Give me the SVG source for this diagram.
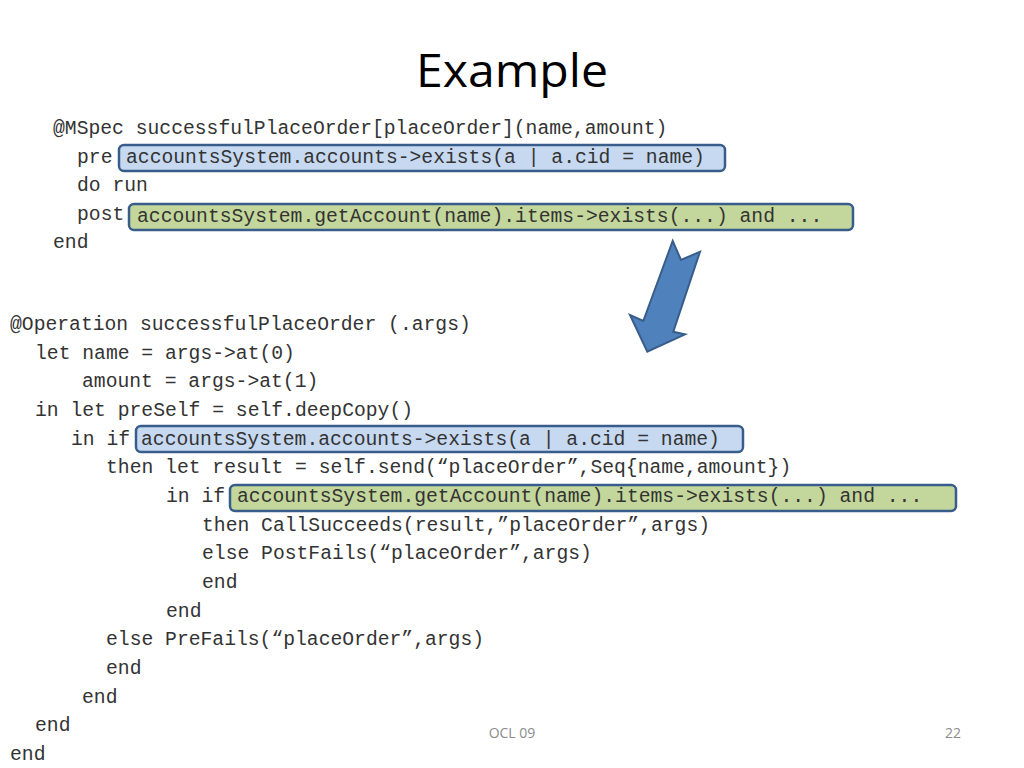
<svg xmlns="http://www.w3.org/2000/svg" width="1024" height="768" viewBox="0 0 1024 768">
<style>
.code{font-family:"Liberation Mono","Courier New",monospace;font-size:19.7px;fill:#333333;white-space:pre}
.pre{fill:#C6D9F1;stroke:#385D8A;stroke-width:2.5}
.post{fill:#C3D69B;stroke:#385D8A;stroke-width:2.5}
.foot{font-family:"Open Sans","Liberation Sans",sans-serif;font-size:14px;fill:#8C8C8C}
</style>
<rect width="1024" height="768" fill="#FFFFFF"/>
<text x="512" y="87" text-anchor="middle" font-family="Open Sans, Liberation Sans, sans-serif" font-size="46" fill="#000" textLength="192" lengthAdjust="spacingAndGlyphs">Example</text>

<g id="mspec">
<text class="code" x="53" y="134">@MSpec successfulPlaceOrder[placeOrder](name,amount)</text>
<text class="code" x="77" y="163">pre</text>
<text class="code" x="77" y="191">do run</text>
<text class="code" x="77" y="220">post</text>
<text class="code" x="53" y="248">end</text>
</g>
<g id="mspec-pre">
<rect class="pre" x="119" y="145" width="606" height="26" rx="5"/>
<text class="code" x="126" y="163">accountsSystem.accounts-&gt;exists(a | a.cid = name)</text>
</g>
<g id="mspec-post">
<rect class="post" x="129" y="204" width="724" height="26" rx="5"/>
<text class="code" x="137" y="222">accountsSystem.getAccount(name).items-&gt;exists(...) and ...</text>
</g>

<g id="connectors">
<polygon points="672.7,241 681,260 700,251.7 673.3,331.7 685,334.3 647.3,351.7 630,315 643.3,321" fill="#4F81BD" stroke="#385D8A" stroke-width="2" stroke-linejoin="miter"/>
</g>

<g id="operation">
<text class="code" x="10" y="330">@Operation successfulPlaceOrder (.args)</text>
<text class="code" x="35" y="359">let name = args-&gt;at(0)</text>
<text class="code" x="82" y="387">amount = args-&gt;at(1)</text>
<text class="code" x="35" y="416">in let preSelf = self.deepCopy()</text>
<text class="code" x="71" y="445">in if</text>
<text class="code" x="106" y="473">then let result = self.send(“placeOrder”,Seq{name,amount})</text>
<text class="code" x="166" y="502">in if</text>
<text class="code" x="202" y="531">then CallSucceeds(result,”placeOrder”,args)</text>
<text class="code" x="202" y="559">else PostFails(“placeOrder”,args)</text>
<text class="code" x="202" y="588">end</text>
<text class="code" x="166" y="617">end</text>
<text class="code" x="106" y="645">else PreFails(“placeOrder”,args)</text>
<text class="code" x="106" y="674">end</text>
<text class="code" x="82" y="703">end</text>
<text class="code" x="35" y="731">end</text>
<text class="code" x="10" y="760">end</text>
</g>
<g id="op-pre">
<rect class="pre" x="136" y="426" width="607" height="26" rx="5"/>
<text class="code" x="141" y="445">accountsSystem.accounts-&gt;exists(a | a.cid = name)</text>
</g>
<g id="op-post">
<rect class="post" x="230" y="485" width="726" height="26" rx="5"/>
<text class="code" x="237" y="502">accountsSystem.getAccount(name).items-&gt;exists(...) and ...</text>
</g>

<text class="foot" x="512" y="738" text-anchor="middle">OCL 09</text>
<text class="foot" x="953" y="738" text-anchor="middle">22</text>
</svg>
